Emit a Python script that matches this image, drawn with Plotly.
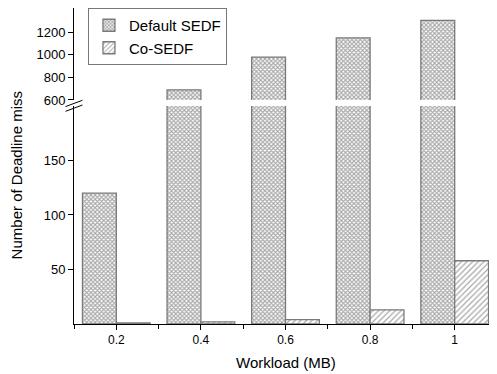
import plotly.graph_objects as go

workload = [0.2, 0.4, 0.6, 0.8, 1.0]
tick_labels = ["0.2", "0.4", "0.6", "0.8", "1"]
default_sedf = [120, 690, 980, 1150, 1305]
co_sedf = [1, 2, 4, 13, 58]

low_ticks = [50, 100, 150]
high_ticks = [600, 800, 1000, 1200]

FONT = "Liberation Sans, Arial, sans-serif"

def_style = dict(color="white", line=dict(color="#7a7a7a", width=1.3),
                 pattern=dict(shape="x", size=3, solidity=0.6, fgcolor="#505050", bgcolor="white"))
co_style = dict(color="white", line=dict(color="#7a7a7a", width=1.3),
                pattern=dict(shape="/", size=4, solidity=0.3, fgcolor="#505050", bgcolor="white"))

fig = go.Figure()
fig.add_trace(go.Bar(x=workload, y=default_sedf, name="Default SEDF", marker=def_style,
                     xaxis="x", yaxis="y", offsetgroup="a"))
fig.add_trace(go.Bar(x=workload, y=co_sedf, name="Co-SEDF", marker=co_style,
                     xaxis="x", yaxis="y", offsetgroup="b"))
fig.add_trace(go.Bar(x=workload, y=default_sedf, name="Default SEDF", marker=def_style,
                     xaxis="x2", yaxis="y2", offsetgroup="a", showlegend=False))
fig.add_trace(go.Bar(x=workload, y=co_sedf, name="Co-SEDF", marker=co_style,
                     xaxis="x2", yaxis="y2", offsetgroup="b", showlegend=False))

axis_common = dict(showline=True, linecolor="black", linewidth=1, showgrid=False,
                   zeroline=False, ticks="outside", ticklen=5, tickcolor="black",
                   automargin=False,
                   tickfont=dict(family=FONT, size=13, color="black"))

# the page body adds an 8px offset, so the figure is sized to the visible area
fig.update_layout(
    width=489, height=366,
    margin=dict(l=66, r=0, t=0, b=50, autoexpand=False),
    paper_bgcolor="white", plot_bgcolor="white",
    barmode="group", bargap=0.2, bargroupgap=0,
    font=dict(family=FONT, color="black"),
    xaxis=dict(range=[0.1, 1.1], domain=[0, 1], anchor="y", automargin=False,
               tickvals=workload, ticktext=tick_labels,
               showline=True, linecolor="black", linewidth=1, showgrid=False, zeroline=False,
               ticks="outside", ticklen=5, tickcolor="black",
               minor=dict(dtick=0.1, tick0=0.1, ticks="outside", ticklen=4, tickcolor="black"),
               tickfont=dict(family=FONT, size=12, color="black")),
    xaxis2=dict(range=[0.1, 1.1], domain=[0, 1], anchor="y2", matches="x",
                visible=False),
    yaxis=dict(range=[0, 200], domain=[0, 0.69], anchor="x", tickvals=low_ticks, **axis_common),
    yaxis2=dict(range=[600, 1415], domain=[0.709, 1], anchor="x2", tickvals=high_ticks, **axis_common),
    legend=dict(x=0.033, y=1.0, xanchor="left", yanchor="top",
                bordercolor="#777777", borderwidth=1, bgcolor="white",
                font=dict(family=FONT, size=15, color="black"),
                tracegroupgap=0, itemwidth=30),
    annotations=[
        dict(text="Number of Deadline miss", xref="paper", yref="paper",
             x=-0.135, y=0.47, textangle=-90, showarrow=False,
             xanchor="center", yanchor="middle",
             font=dict(family=FONT, size=15, color="black")),
        dict(text="Workload (MB)", xref="paper", yref="paper",
             x=0.5, y=-0.123, showarrow=False, xanchor="center", yanchor="middle",
             font=dict(family=FONT, size=15, color="black")),
    ],
    shapes=[
        dict(type="line", xref="paper", yref="paper", x0=-0.02, x1=0.02, y0=0.688, y1=0.708,
             line=dict(color="black", width=1)),
        dict(type="line", xref="paper", yref="paper", x0=-0.02, x1=0.02, y0=0.673, y1=0.693,
             line=dict(color="black", width=1)),
    ],
)

fig.write_html("out.html")
